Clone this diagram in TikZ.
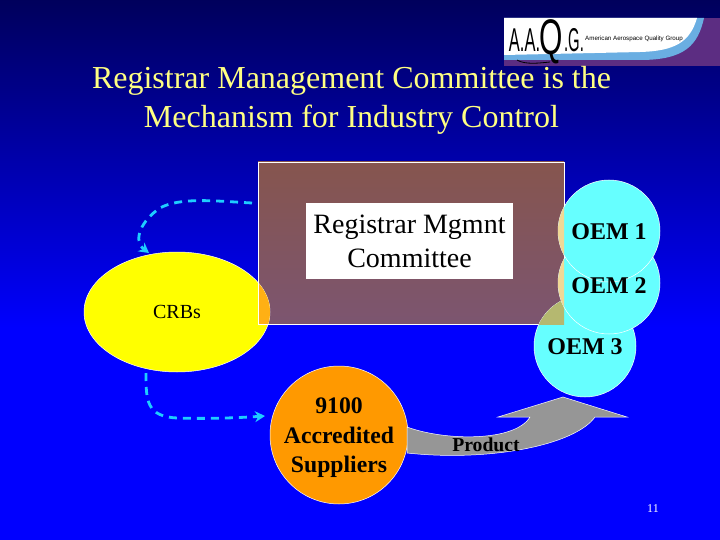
\documentclass[tikz,border=0pt]{standalone}
\usepackage{fontspec}
\setmainfont{Liberation Serif}
\newfontfamily\logofont{Liberation Sans}
\usetikzlibrary{shapes.geometric,arrows.meta}
\definecolor{bgtop}{RGB}{0,0,92}
\definecolor{bgblue}{RGB}{0,0,255}
\definecolor{titleyellow}{RGB}{255,255,130}
\definecolor{boxtop}{RGB}{134,85,78}
\definecolor{boxbot}{RGB}{124,85,112}
\definecolor{oemcyan}{RGB}{102,255,255}
\definecolor{orangefill}{RGB}{255,153,0}
\definecolor{pureyellow}{RGB}{255,255,0}
\definecolor{overlaporange}{RGB}{255,176,20}
\definecolor{overlaytan}{RGB}{240,216,150}
\definecolor{overlayolive}{RGB}{181,184,112}
\definecolor{dashcyan}{RGB}{30,205,255}
\definecolor{prodgray}{RGB}{150,150,150}
\definecolor{logopurple}{RGB}{92,45,130}
\definecolor{logoblue}{RGB}{106,174,226}
\tikzset{
  titletext/.style={text=titleyellow,font=\fontsize{32}{38.5}\selectfont,align=center},
  oem/.style={circle,draw=white,line width=0.5pt,fill=oemcyan,minimum size=102pt,inner sep=0pt},
  oemlabel/.style={inner sep=0pt,font=\bfseries\fontsize{24}{26}\selectfont,text=black},
  link/.style={dashcyan,line width=2.8pt,dash pattern=on 8pt off 6pt,-{Stealth[length=10pt,width=11pt]}},
  logotxt/.style={inner sep=0pt,text=black}
}
\begin{document}
\begin{tikzpicture}[x=1pt,y=-1pt]
\useasboundingbox (0,0) rectangle (720,540);
\shade[top color=bgtop,bottom color=bgblue] (0,0) rectangle (720,330);
\fill[bgblue] (0,330) rectangle (720,540);
% logo
\fill[logopurple] (504,18) rectangle (720,66);
\fill[logoblue] (504,18) -- (704,18) .. controls (698,45) and (685,60) .. (640,60) -- (504,60) -- cycle;
\fill[white] (504,18) -- (697,18) .. controls (690,42) and (675,51) .. (640,52) -- (504,55) -- cycle;
\node[logotxt,font=\logofont\fontsize{33}{33}\selectfont] (logoaa) at (524.5,40) {\scalebox{0.5}[1]{A.A.}};
\node[logotxt,font=\logofont\fontsize{50}{50}\selectfont] (logoq) at (551,42) {\scalebox{0.6}[1]{Q}};
\node[logotxt,font=\logofont\fontsize{33}{33}\selectfont] (logog) at (574,40) {\scalebox{0.45}[1]{.G.}};
\node[logotxt,font=\logofont\fontsize{6.2}{7}\selectfont] (logotag) at (634,39) {American Aerospace Quality Group};
\draw[black,line width=0.8pt] (517,60) .. controls (525,65) and (540,63) .. (550,62);
% title
\node[titletext] (title) at (351.5,100.5) {Registrar Management Committee is the\\Mechanism for Industry Control};
% committee box
\shade[top color=boxtop,bottom color=boxbot,draw=white,line width=0.5pt] (258,162) rectangle (564,324);
\node[draw=none,fill=white,minimum width=207pt,minimum height=76pt,inner sep=0pt,align=center,font=\fontsize{28}{34}\selectfont] (mgmt) at (409.5,241) {Registrar Mgmnt\\Committee};
% CRBs
\node[ellipse,draw=white,line width=0.5pt,fill=pureyellow,minimum width=186pt,minimum height=120pt,inner sep=0pt,font=\fontsize{20}{22}\selectfont] (crbs) at (177,312) {CRBs};
\begin{scope}
\clip (258,162) rectangle (564,324);
\fill[overlaporange] (177,312) ellipse [x radius=93,y radius=60];
\end{scope}
\draw[white,line width=0.5pt] (258,162) -- (258,324) -- (270,324);
% OEMs
\node[oem] (oem3) at (585,346) {};
\begin{scope}
\clip (500,162) rectangle (564,324);
\fill[overlayolive] (585,346) circle (51);
\end{scope}
\node[oem] (oem2) at (609,283) {};
\begin{scope}
\clip (540,162) rectangle (564,324);
\fill[overlaytan] (609,283) circle (51);
\end{scope}
\node[oem] (oem1) at (609,231) {};
\begin{scope}
\clip (540,162) rectangle (564,324);
\fill[overlaytan] (609,231) circle (51);
\end{scope}
\node[oemlabel] (oem1text) at (609,232) {OEM 1};
\node[oemlabel] (oem2text) at (609,286) {OEM 2};
\node[oemlabel] (oem3text) at (585,347) {OEM 3};
% suppliers
\node[circle,draw=white,line width=0.5pt,fill=orangefill,minimum size=138pt,inner sep=0pt] (sup) at (339,435) {};
\node[inner sep=0pt,align=center,font=\bfseries\fontsize{23.7}{29.5}\selectfont] (suptext) at (339,438) {9100\\Accredited\\Suppliers};
% product arrow
\coordinate (pa) at (407,427);
\coordinate (pb) at (407,453);
\fill[prodgray,draw=white,line width=0.5pt] (pa) .. controls (445,441) and (515,442) .. (530,417) -- (498,417) -- (563,397) -- (627,417) -- (595,417) .. controls (575,445) and (490,462) .. (pb) -- cycle;
\node[inner sep=0pt,font=\bfseries\fontsize{19.7}{21}\selectfont] (product) at (486,445) {Product};
% connectors
\coordinate (dashstart) at (252,203);
\coordinate (crbtop) at (149,253);
\coordinate (crbbot) at (146,373);
\coordinate (suparrow) at (265,416);
\draw[link] (dashstart) .. controls (215,201) and (180,197) .. (160,208) .. controls (142,220) and (132,240) .. (crbtop);
\draw[link] (crbbot) .. controls (146,400) and (146,417) .. (178,418) .. controls (205,419) and (235,418) .. (suparrow);
% page number
\node[text=white,inner sep=0pt,font=\fontsize{12}{14}\selectfont] (page) at (653,509) {11};
\end{tikzpicture}
\end{document}
